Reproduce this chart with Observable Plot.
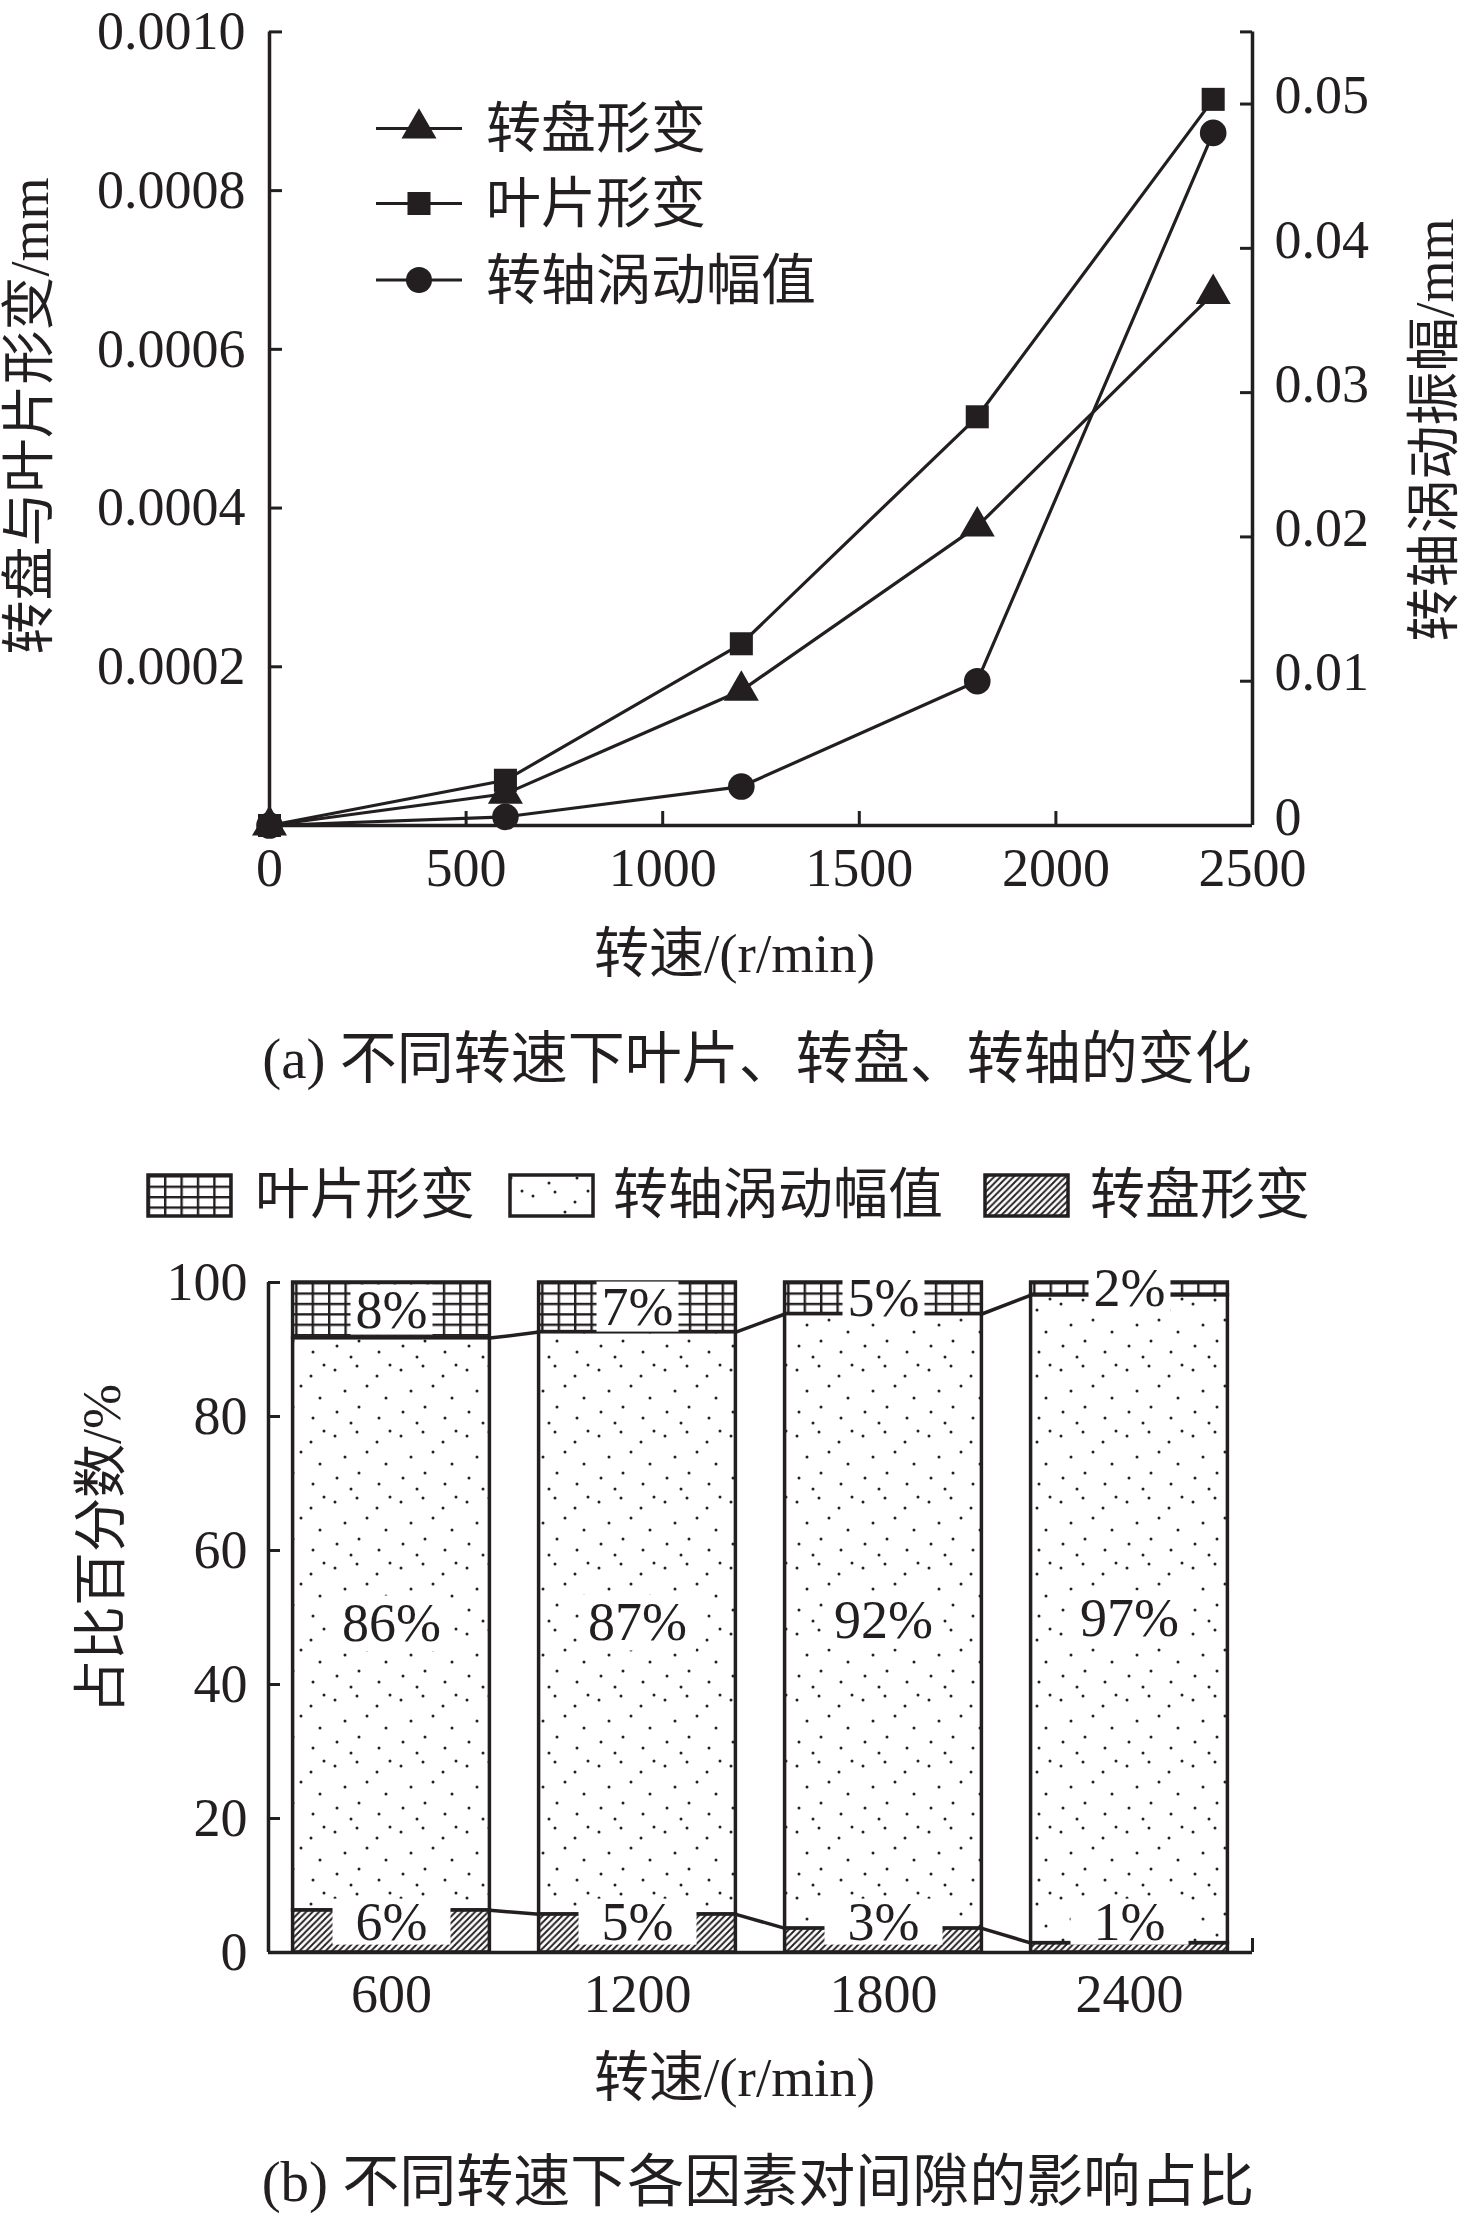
<!DOCTYPE html>
<html>
<head>
<meta charset="utf-8">
<script src="https://cdn.jsdelivr.net/npm/d3@7"></script>
<script src="https://cdn.jsdelivr.net/npm/@observablehq/plot@0.6"></script>
<style>
  body { margin: 0; background: #fff; }
  #root { position: relative; width: 1476px; height: 2214px; overflow: hidden; background: #fff; }
</style>
</head>
<body>
<div id="root"></div>
<script>
// ---------------- data: chart (a) ----------------
const seriesNamesA = ["转盘形变", "叶片形变", "转轴涡动幅值"];
const speeds = [0, 600, 1200, 1800, 2400];
const diskDeformation  = [0, 0.00004, 0.00017, 0.000377, 0.00067];   // 转盘形变 (left axis, mm)
const bladeDeformation = [0, 0.000057, 0.000229, 0.000515, 0.000915]; // 叶片形变 (left axis, mm)
const shaftWhirl       = [0, 0.0006, 0.0027, 0.01, 0.048];            // 转轴涡动幅值 (right axis, mm)
const xTicksA = [0, 500, 1000, 1500, 2000, 2500];
const xTickLabelsA = ["0", "500", "1000", "1500", "2000", "2500"];
const leftTicks = [0.0002, 0.0004, 0.0006, 0.0008, 0.001];
const leftTickLabels = ["0.0002", "0.0004", "0.0006", "0.0008", "0.0010"];
const rightTicks = [0, 0.01, 0.02, 0.03, 0.04, 0.05, 0.055];
const rightTickLabels = ["0", "0.01", "0.02", "0.03", "0.04", "0.05", ""];
const xTitleA = "转速/(r/min)";
const yLeftTitleA = "转盘与叶片形变/mm";
const yRightTitleA = "转轴涡动振幅/mm";
const captionA = "(a) 不同转速下叶片、转盘、转轴的变化";

// ---------------- data: chart (b) ----------------
const seriesNamesB = ["叶片形变", "转轴涡动幅值", "转盘形变"];
const barSpeeds = [600, 1200, 1800, 2400];
const diskShare  = [6.3, 5.7, 3.6, 1.4];
const shaftShare = [85.4, 86.9, 91.7, 96.7];
const bladeShare = [8.3, 7.4, 4.7, 1.9];
const diskLabels  = ["6%", "5%", "3%", "1%"];
const shaftLabels = ["86%", "87%", "92%", "97%"];
const bladeLabels = ["8%", "7%", "5%", "2%"];
const yTicksB = [0, 20, 40, 60, 80, 100];
const yTickLabelsB = ["0", "20", "40", "60", "80", "100"];
const xTickLabelsB = ["600", "1200", "1800", "2400"];
const xTitleB = "转速/(r/min)";
const yTitleB = "占比百分数/%";
const captionB = "(b) 不同转速下各因素对间隙的影响占比";

// ---------------- style ----------------
const ink = "#231f20";
const FONT = '"Liberation Serif", "Times New Roman", "Noto Sans CJK SC", serif';
const root = d3.select("#root");

// patterns
const defsSvg = root.append("svg").attr("width", 0).attr("height", 0)
  .style("position", "absolute").style("left", 0).style("top", 0);
const defs = defsSvg.append("defs");
{
  const g = defs.append("pattern").attr("id", "pGrid").attr("patternUnits", "userSpaceOnUse")
    .attr("width", 16.4).attr("height", 10.4);
  g.append("rect").attr("width", 16.4).attr("height", 10.4).attr("fill", "#fff");
  g.append("path").attr("d", "M0,1.2H16.4M1.2,0V10.4").attr("stroke", ink).attr("stroke-width", 2.4).attr("fill", "none");

  const h = defs.append("pattern").attr("id", "pHatch").attr("patternUnits", "userSpaceOnUse")
    .attr("width", 6.5).attr("height", 6.5);
  h.append("rect").attr("width", 6.5).attr("height", 6.5).attr("fill", "#fff");
  h.append("path").attr("d", "M-1.625,1.625L1.625,-1.625M0,6.5L6.5,0M4.875,8.125L8.125,4.875")
    .attr("stroke", ink).attr("stroke-width", 1.9);

  const d = defs.append("pattern").attr("id", "pDots").attr("patternUnits", "userSpaceOnUse")
    .attr("width", 66).attr("height", 66);
  d.append("rect").attr("width", 66).attr("height", 66).attr("fill", "#fff");
  [[5,8],[27,4],[47,14],[60,3],[15,29],[37,24],[56,36],[7,50],[29,45],[49,56],[21,61]]
    .forEach(([cx, cy]) => d.append("circle").attr("cx", cx).attr("cy", cy).attr("r", 1.5).attr("fill", ink));
}

const baseStyle = {background: "transparent", color: ink, fontFamily: FONT, fontSize: "54px", overflow: "visible"};

// ---------------- chart (a) ----------------
const k = 0.001 / 0.055; // right-axis value -> left-axis units
const rowsA = speeds.map((s, i) => ({s, disk: diskDeformation[i], blade: bladeDeformation[i], shaft: shaftWhirl[i] * k}));
const WA = 1476, HA = 1000, mTA = 31.4, mBA = 175, mLA = 269, mRA = 224;
const pwA = WA - mLA - mRA, phA = HA - mTA - mBA;
const xMapA = new Map(xTicksA.map((t, i) => [t, xTickLabelsA[i]]));
const leftMap = new Map(leftTicks.map((t, i) => [t, leftTickLabels[i]]));
const rightScaled = rightTicks.map(t => t * k);
const rightMap = new Map(rightScaled.map((t, i) => [t, rightTickLabels[i]]));

const chartA = Plot.plot({
  width: WA, height: HA,
  marginTop: mTA, marginBottom: mBA, marginLeft: mLA, marginRight: mRA,
  x: {domain: [0, 2500]},
  y: {domain: [0, 0.001]},
  style: baseStyle,
  marks: [
    Plot.axisX({ticks: xTicksA, tickSize: 0, tickPadding: 22, tickFormat: d => xMapA.get(d), label: null, fontSize: 54}),
    Plot.axisY({ticks: leftTicks, tickSize: 0, tickPadding: 24, tickFormat: d => leftMap.get(d), label: null, fontSize: 54}),
    Plot.axisY({anchor: "right", ticks: rightScaled, tickSize: 0, tickPadding: 22, dy: -8, tickFormat: d => rightMap.get(d), label: null, fontSize: 54}),
    Plot.tickX(xTicksA.slice(1, -1), {x: d => d, insetTop: phA - 14, stroke: ink, strokeWidth: 3}),
    Plot.tickY(leftTicks, {y: d => d, insetRight: pwA - 13, stroke: ink, strokeWidth: 3}),
    Plot.tickY(rightScaled.slice(1), {y: d => d, insetLeft: pwA - 12, stroke: ink, strokeWidth: 3}),
    Plot.ruleX([0, 2500], {stroke: ink, strokeWidth: 3.5}),
    Plot.ruleY([0], {stroke: ink, strokeWidth: 3.5}),
    Plot.line(rowsA, {x: "s", y: "disk", stroke: ink, strokeWidth: 3.2}),
    Plot.line(rowsA, {x: "s", y: "blade", stroke: ink, strokeWidth: 3.2}),
    Plot.line(rowsA, {x: "s", y: "shaft", stroke: ink, strokeWidth: 3.2}),
    Plot.dot(rowsA, {x: "s", y: "disk", symbol: "triangle", r: 13, fill: ink}),
    Plot.dot(rowsA, {x: "s", y: "blade", symbol: "square", r: 13, fill: ink}),
    Plot.dot(rowsA, {x: "s", y: "shaft", symbol: "circle", r: 13.3, fill: ink}),
    Plot.text([xTitleA], {text: d => d, frameAnchor: "bottom", dx: 734 - (mLA + pwA / 2), dy: 146, fontSize: 55})
  ]
});
const wrapA = root.append("div").style("position", "absolute").style("left", "0px").style("top", "0px");
wrapA.node().appendChild(chartA);

// ---------------- chart (b) ----------------
const idx = d3.range(barSpeeds.length);
const halfBar = 240;
const lowerB = idx.map(i => diskShare[i]);
const upperB = idx.map(i => diskShare[i] + shaftShare[i]);
const topB = idx.map(i => diskShare[i] + shaftShare[i] + bladeShare[i]);
const WB = 1476, HB = 900, mTB = 52, mBB = 178, mLB = 268, mRB = 224;
const TOPB = 1230;
const pwB = WB - mLB - mRB, phB = HB - mTB - mBB;
const xMapB = new Map(barSpeeds.map((t, i) => [t, xTickLabelsB[i]]));
const yMapB = new Map(yTicksB.map((t, i) => [t, yTickLabelsB[i]]));

const chartB = Plot.plot({
  width: WB, height: HB,
  marginTop: mTB, marginBottom: mBB, marginLeft: mLB, marginRight: mRB,
  x: {domain: [300, 2700]},
  y: {domain: [0, 100]},
  style: baseStyle,
  marks: [
    Plot.axisX({ticks: barSpeeds, tickSize: 0, tickPadding: 21, tickFormat: d => xMapB.get(d), label: null, fontSize: 54}),
    Plot.axisY({ticks: yTicksB, tickSize: 0, tickPadding: 21, tickFormat: d => yMapB.get(d), label: null, fontSize: 54}),
    Plot.tickY(yTicksB.slice(1), {y: d => d, insetRight: pwB - 12, stroke: ink, strokeWidth: 3}),
    Plot.tickX([2700], {x: d => d, insetTop: phB - 14, stroke: ink, strokeWidth: 3}),
    Plot.rect(idx, {x1: i => barSpeeds[i] - halfBar, x2: i => barSpeeds[i] + halfBar, y1: 0, y2: i => lowerB[i],
      fill: "url(#pHatch)", stroke: ink, strokeWidth: 3.5}),
    Plot.rect(idx, {x1: i => barSpeeds[i] - halfBar, x2: i => barSpeeds[i] + halfBar, y1: i => lowerB[i], y2: i => upperB[i],
      fill: "url(#pDots)", stroke: ink, strokeWidth: 3.5}),
    Plot.rect(idx, {x1: i => barSpeeds[i] - halfBar, x2: i => barSpeeds[i] + halfBar, y1: i => upperB[i], y2: i => topB[i],
      fill: "url(#pGrid)", stroke: ink, strokeWidth: 3.5}),
    Plot.ruleX([300], {stroke: ink, strokeWidth: 3.5}),
    Plot.ruleY([0], {stroke: ink, strokeWidth: 3.5}),
    Plot.link(idx.slice(0, -1), {x1: i => barSpeeds[i] + halfBar, y1: i => lowerB[i], x2: i => barSpeeds[i + 1] - halfBar, y2: i => lowerB[i + 1],
      stroke: ink, strokeWidth: 3.5}),
    Plot.link(idx.slice(0, -1), {x1: i => barSpeeds[i] + halfBar, y1: i => upperB[i], x2: i => barSpeeds[i + 1] - halfBar, y2: i => upperB[i + 1],
      stroke: ink, strokeWidth: 3.5}),
    Plot.text(idx, {x: i => barSpeeds[i], y: i => (upperB[i] + topB[i]) / 2, text: i => bladeLabels[i], fontSize: 54, ariaDescription: "lbl-top"}),
    Plot.text(idx, {x: i => barSpeeds[i], y: i => (lowerB[i] + upperB[i]) / 2, text: i => shaftLabels[i], fontSize: 54, ariaDescription: "lbl-mid"}),
    Plot.text(idx, {x: i => barSpeeds[i], y: 4.5, text: i => diskLabels[i], fontSize: 54, ariaDescription: "lbl-bot"}),
    Plot.text([xTitleB], {text: d => d, frameAnchor: "bottom", dx: 734 - (mLB + pwB / 2), dy: 143, fontSize: 55})
  ]
});
const wrapB = root.append("div").style("position", "absolute").style("left", "0px").style("top", TOPB + "px");
wrapB.node().appendChild(chartB);

// white boxes behind bar labels
function addBoxes(svg, desc, padX, halfH) {
  const g = svg.querySelector(`g[aria-description="${desc}"]`);
  if (!g) return;
  const ns = "http://www.w3.org/2000/svg";
  const boxG = document.createElementNS(ns, "g");
  g.parentNode.insertBefore(boxG, g);
  const sr = svg.getBoundingClientRect();
  g.querySelectorAll("text").forEach(t => {
    const r = t.getBoundingClientRect();
    const cx = r.left - sr.left, cy = r.top - sr.top + r.height / 2;
    const rect = document.createElementNS(ns, "rect");
    rect.setAttribute("x", cx - padX);
    rect.setAttribute("y", cy - halfH);
    rect.setAttribute("width", r.width + 2 * padX);
    rect.setAttribute("height", 2 * halfH);
    rect.setAttribute("fill", "#fff");
    boxG.appendChild(rect);
  });
}
addBoxes(chartB, "lbl-top", 5, 25);
addBoxes(chartB, "lbl-mid", 9, 28);
addBoxes(chartB, "lbl-bot", 23, 23);

// ---------------- overlay: rotated axis titles, legends and captions ----------------
const ov = root.append("svg").attr("width", 1476).attr("height", 2214)
  .style("position", "absolute").style("left", 0).style("top", 0).style("pointer-events", "none")
  .attr("font-family", FONT).attr("fill", ink);

[[yLeftTitleA, 30, 416], [yRightTitleA, 1435, 430], [yTitleB, 102, 1549]].forEach(([t, x, y]) => {
  ov.append("text").attr("transform", `translate(${x},${y}) rotate(-90)`)
    .attr("text-anchor", "middle").attr("dominant-baseline", "central").attr("font-size", 54).text(t);
});

const symsA = [d3.symbolTriangle, d3.symbolSquare, d3.symbolCircle];
const rowYA = [128.5, 203.5, 280];
seriesNamesA.forEach((name, i) => {
  const y = rowYA[i];
  ov.append("line").attr("x1", 376).attr("x2", 462).attr("y1", y).attr("y2", y).attr("stroke", ink).attr("stroke-width", 3);
  ov.append("path").attr("d", d3.symbol(symsA[i], Math.PI * 13 * 13)()).attr("transform", `translate(419,${y})`).attr("fill", ink);
  ov.append("text").attr("x", 486).attr("y", y).attr("dominant-baseline", "central").attr("font-size", 55).text(name);
});

ov.append("text").attr("x", 757).attr("y", 1058).attr("text-anchor", "middle").attr("dominant-baseline", "central")
  .attr("font-size", 57).text(captionA);

const legB = [
  {fill: "url(#pGrid)", x: 148, tx: 255},
  {fill: "url(#pDots)", x: 510, tx: 613},
  {fill: "url(#pHatch)", x: 985, tx: 1090}
];
legB.forEach((d, i) => {
  ov.append("rect").attr("x", d.x).attr("y", 1175).attr("width", 83).attr("height", 41)
    .attr("fill", d.fill).attr("stroke", ink).attr("stroke-width", 3.5);
  ov.append("text").attr("x", d.tx).attr("y", 1194).attr("dominant-baseline", "central").attr("font-size", 55).text(seriesNamesB[i]);
});

ov.append("text").attr("x", 758).attr("y", 2181).attr("text-anchor", "middle").attr("dominant-baseline", "central")
  .attr("font-size", 57).text(captionB);
</script>
</body>
</html>
